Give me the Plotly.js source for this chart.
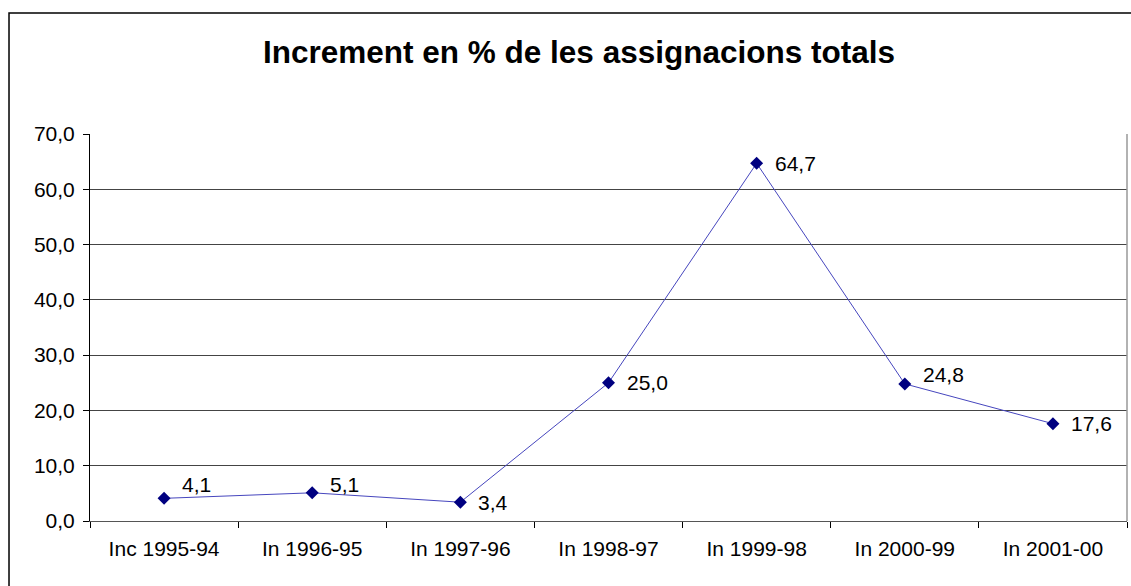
<!DOCTYPE html>
<html>
<head>
<meta charset="utf-8">
<script src="https://cdn.plot.ly/plotly-3.0.1.min.js"></script>
<style>
  html, body { margin: 0; padding: 0; background: #fff; }
  #chart { width: 1131px; height: 586px; }
</style>
</head>
<body>
<div id="chart"></div>
<script>
const categories = ["Inc 1995-94", "In 1996-95", "In 1997-96", "In 1998-97", "In 1999-98", "In 2000-99", "In 2001-00"];
const values = [4.1, 5.1, 3.4, 25.0, 64.7, 24.8, 17.6];
const yTickValues = [0, 10, 20, 30, 40, 50, 60, 70];
const titleText = "Increment en % de les assignacions totals";

const FONT = "Arial, 'Liberation Sans', sans-serif";

// label vertical nudges (px), as placed in the original chart
const labelLift = [14, 8, 0, 0, 0, 9, 0];

const trace = {
  type: "scatter",
  mode: "lines+markers",
  x: categories,
  y: values,
  line: { color: "rgb(70,70,190)", width: 1 },
  marker: { symbol: "diamond", size: 10, color: "#000080", line: { width: 0 } },
  cliponaxis: false,
  hoverinfo: "skip"
};

const fmt = v => v.toFixed(1).replace(".", ",");

const annotations = categories.map((c, i) => ({
  x: c, y: values[i], xref: "x", yref: "y",
  text: fmt(values[i]),
  showarrow: false,
  xanchor: "left", yanchor: "middle",
  xshift: 16, yshift: labelLift[i],
  font: { family: FONT, size: 21, color: "#000" }
}));

const layout = {
  width: 1131,
  height: 586,
  margin: { l: 90, r: 4, t: 134, b: 65 },
  paper_bgcolor: "#fff",
  plot_bgcolor: "#fff",
  separators: ",.",
  showlegend: false,
  font: { family: FONT, size: 21, color: "#000" },
  title: {
    text: "<b>" + titleText + "</b>",
    font: { family: FONT, size: 31.5, color: "#000" },
    x: 579 / 1131, xanchor: "center", xref: "container",
    y: 0.911, yanchor: "middle", yref: "container"
  },
  xaxis: {
    type: "category",
    range: [-0.5, categories.length - 0.5],
    tickson: "boundaries",
    ticks: "outside",
    ticklen: 6,
    tickcolor: "#000",
    showgrid: false,
    showline: true,
    linecolor: "#555",
    linewidth: 1,
    zeroline: false,
    ticklabelstandoff: 9,
    tickfont: { family: FONT, size: 21, color: "#000" },
    fixedrange: true
  },
  yaxis: {
    range: [0, 70],
    tickvals: yTickValues,
    tickformat: ".1f",
    ticks: "outside",
    ticklen: 6,
    tickcolor: "#000",
    showline: true,
    linecolor: "#000",
    linewidth: 1,
    showgrid: true,
    gridcolor: "#444",
    gridwidth: 1,
    zeroline: false,
    ticklabelstandoff: 4,
    tickfont: { family: FONT, size: 21, color: "#000" },
    fixedrange: true
  },
  annotations: annotations,
  shapes: [
    { type: "line", xref: "x domain", yref: "y domain", x0: 1, x1: 1, y0: 0, y1: 1,
      line: { color: "#999", width: 1.5 } },
    { type: "rect", xref: "paper", yref: "paper", x0: -0.0781, x1: 1.2, y0: -0.6, y1: 1.3127,
      line: { color: "#000", width: 1.5 }, fillcolor: "rgba(0,0,0,0)", layer: "above" }
  ]
};

Plotly.newPlot("chart", [trace], layout, { staticPlot: true, displayModeBar: false });
</script>
</body>
</html>
